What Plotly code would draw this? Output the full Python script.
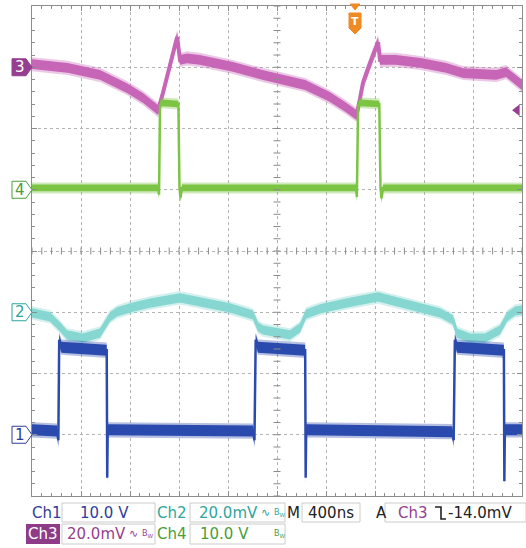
import plotly.graph_objects as go

TIME_PER_DIV_NS = 400
N_XDIV = 10
N_YDIV = 8

# Ch3 (magenta) 20.0 mV/div, reference at +3 div
CH3_SCALE = 20.0
CH3_POS = 3.0
ch3_t = [0, 290, 555, 775, 905, 1030, 1069, 1102, 1143, 1185, 1208, 1265, 1370, 1640, 1880,
         2050, 2230, 2430, 2560, 2650, 2680, 2702, 2760, 2825, 2841, 2970, 3170, 3380, 3520,
         3790, 3870, 4000]
ch3_mv = [1.0, -0.2, -2.5, -6.8, -10.0, -14.0, -8.4, -3.2, 3.3, 9.9, 2.4, 2.9, 2.4, 0.1, -2.5,
          -4.2, -5.8, -9.7, -13.0, -15.6, -9.7, -5.1, 1.4, 8.2, 2.4, 2.4, 1.4, -0.2, -1.9,
          -2.5, -1.6, -5.8]

# Ch4 (green) 10.0 V/div, reference at +1 div
CH4_SCALE = 10.0
CH4_POS = 1.0
ch4_t = [0, 1030, 1037, 1045, 1060, 1195, 1204, 1212, 1225, 2645, 2652, 2662, 2680, 2835,
         2845, 2853, 2866, 4000]
ch4_v = [0.3, 0.3, -0.8, 13.8, 14.2, 14.0, 0.3, -1.3, 0.3, 0.3, -1.2, 13.8, 14.2, 14.0,
         0.3, -1.4, 0.3, 0.3]

# Ch2 (cyan) 20.0 mV/div, reference at -1 div
CH2_SCALE = 20.0
CH2_POS = -1.0
ch2_t = [0, 147, 229, 286, 416, 555, 637, 694, 824, 963, 1208, 1371, 1616, 1804, 1845, 1886,
         2106, 2188, 2237, 2351, 2563, 2824, 3110, 3330, 3437, 3469, 3576, 3698, 3820, 3878,
         3943, 4000]
ch2_mv = [-0.2, -1.5, -4.8, -7.4, -8.4, -6.8, -1.5, 0.1, 1.7, 3.0, 4.7, 3.3, 1.4, -0.9, -4.8,
          -5.8, -7.4, -5.1, -0.6, 1.1, 3.0, 5.0, 2.0, -0.2, -2.5, -6.8, -8.4, -8.4, -5.8, -1.5,
          0.4, 0.7]

# Ch1 (blue) 10.0 V/div, reference at -3 div
CH1_SCALE = 10.0
CH1_POS = -3.0
ch1_t = [0, 205, 215, 222, 240, 610, 614, 618, 626, 1805, 1816, 1826, 1845, 2230, 2234,
         2238, 2246, 3430, 3442, 3452, 3470, 3852, 3856, 3860, 3868, 4000]
ch1_v = [0.8, 0.6, -0.9, 15.5, 14.3, 13.8, -7.0, 0.8, 0.8, 0.6, -0.9, 15.5, 14.3, 13.8, -7.0,
         0.8, 0.8, 0.5, -0.9, 15.5, 14.3, 13.8, -7.6, 0.8, 0.8, 0.8]

# trigger
TRIG_T_NS = 2637
TRIG_LEVEL_MV = -14.0

# readout texts
ch1_label, ch1_scale_txt = "Ch1", "10.0 V"
ch2_label, ch2_scale_txt = "Ch2", "20.0mV"
ch3_label, ch3_scale_txt = "Ch3", "20.0mV"
ch4_label, ch4_scale_txt = "Ch4", "10.0 V"
time_txt = "400ns"
trig_txt = "-14.0mV"

# ---------------- styling ----------------
C1 = "#2b4aae"
C2 = "#86d7d1"
C3 = "#c766b7"
C4 = "#7cc443"
T1 = "#2f3d9c"
T2 = "#2ea69c"
T3 = "#963e8f"
T4 = "#4b9d38"

W, H = 526, 548
L, R, TOP, B = 32, 4, 6, 52
PW, PH = W - L - R, H - TOP - B


def px(x):
    return (x - L) / PW


def py(y):
    return (H - B - y) / PH


def to_div(vals, scale, pos):
    return [v / scale + pos for v in vals]


fig = go.Figure()


def add_channel(t, y, h, color, lw):
    xs = list(t) + list(t)[::-1]
    for hh, op in ((h + 0.035, 0.35), (h, 1.0)):
        ys = [v + hh for v in y] + [v - hh for v in y][::-1]
        fig.add_trace(go.Scatter(x=xs, y=ys, fill="toself", fillcolor=color, opacity=op,
                                 line=dict(width=0), mode="lines", hoverinfo="skip",
                                 showlegend=False))
    fig.add_trace(go.Scatter(x=t, y=y, mode="lines", line=dict(color=color, width=lw),
                             hoverinfo="skip", showlegend=False))


add_channel(ch3_t, to_div(ch3_mv, CH3_SCALE, CH3_POS), 0.08, C3, 4)
add_channel(ch4_t, to_div(ch4_v, CH4_SCALE, CH4_POS), 0.055, C4, 2.5)
add_channel(ch2_t, to_div(ch2_mv, CH2_SCALE, CH2_POS), 0.075, C2, 3)
add_channel(ch1_t, to_div(ch1_v, CH1_SCALE, CH1_POS), 0.09, C1, 2.5)

# centre-cross minor ticks
tmax = TIME_PER_DIV_NS * N_XDIV
minor_t = [i * TIME_PER_DIV_NS / 5 for i in range(N_XDIV * 5 + 1)]
minor_y = [-N_YDIV / 2 + i * 0.2 for i in range(N_YDIV * 5 + 1)]
fig.add_trace(go.Scatter(x=minor_t, y=[0] * len(minor_t), mode="markers",
                         marker=dict(symbol="line-ns", size=5,
                                     line=dict(color="#8a8a8a", width=1)),
                         hoverinfo="skip", showlegend=False))
fig.add_trace(go.Scatter(x=[tmax / 2] * len(minor_y), y=minor_y, mode="markers",
                         marker=dict(symbol="line-ew", size=5,
                                     line=dict(color="#8a8a8a", width=1)),
                         hoverinfo="skip", showlegend=False))

# trigger level arrow (right edge)
fig.add_trace(go.Scatter(x=[tmax * 0.99], y=[TRIG_LEVEL_MV / CH3_SCALE + CH3_POS],
                         mode="markers", cliponaxis=False,
                         marker=dict(symbol="triangle-left", size=10, color=T3),
                         hoverinfo="skip", showlegend=False))

shapes = []
annotations = []

# channel reference markers on the left
for pos, num, col, filled in ((CH3_POS, "3", T3, True), (CH4_POS, "4", T4, False),
                              (CH2_POS, "2", T2, False), (CH1_POS, "1", T1, False)):
    yc = (pos + N_YDIV / 2) / N_YDIV
    hh = 8.5 / PH
    path = (f"M {px(12)},{yc + hh} L {px(26)},{yc + hh} L {px(32)},{yc} "
            f"L {px(26)},{yc - hh} L {px(12)},{yc - hh} Z")
    shapes.append(dict(type="path", xref="paper", yref="paper", path=path,
                       fillcolor=col if filled else "white", line=dict(color=col, width=1)))
    annotations.append(dict(x=px(19.5), y=yc, xref="paper", yref="paper", text=num,
                            showarrow=False, xanchor="center", yanchor="middle",
                            font=dict(family="DejaVu Sans", size=15,
                                      color="white" if filled else col)))

# trigger position marker
tx = TRIG_T_NS
dx = 6 * tmax / PW
path = (f"M {tx - dx},{py(13)} L {tx + dx},{py(13)} L {tx + dx},{py(28)} "
        f"L {tx},{py(34)} L {tx - dx},{py(28)} Z")
shapes.append(dict(type="path", xref="x", yref="paper", path=path,
                   fillcolor="#f08a24", line=dict(color="#f08a24", width=1)))
path2 = f"M {tx - dx * 0.8},{py(4)} L {tx + dx * 0.8},{py(4)} L {tx},{py(10)} Z"
shapes.append(dict(type="path", xref="x", yref="paper", path=path2,
                   fillcolor="#f08a24", line=dict(color="#f08a24", width=1)))
annotations.append(dict(x=tx, y=py(21), xref="x", yref="paper", text="<b>T</b>",
                        showarrow=False, xanchor="center", yanchor="middle",
                        font=dict(family="DejaVu Sans", size=11, color="white")))

# readout boxes
for x0, x1, y0, y1 in ((62, 155, 503, 522), (190, 285, 503, 522), (302, 360, 503, 522),
                       (385, 526, 503, 522), (62, 155, 524, 544), (190, 285, 524, 544)):
    shapes.append(dict(type="rect", xref="paper", yref="paper", x0=px(x0), x1=px(x1),
                       y0=py(y1), y1=py(y0), fillcolor="white",
                       line=dict(color="#cccccc", width=1)))
shapes.append(dict(type="rect", xref="paper", yref="paper", x0=px(26), x1=px(60),
                   y0=py(544), y1=py(524), fillcolor="#8e3b88", line=dict(width=0)))
# falling-edge trigger slope symbol
shapes.append(dict(type="path", xref="paper", yref="paper",
                   path=(f"M {px(435)},{py(507)} L {px(441)},{py(507)} "
                         f"L {px(441)},{py(519)} L {px(446)},{py(519)}"),
                   line=dict(color="#222222", width=1.6)))

FONT = "DejaVu Sans"


def txt(x, y, s, col, size=15):
    annotations.append(dict(x=px(x), y=py(y), xref="paper", yref="paper", text=s,
                            showarrow=False, xanchor="left", yanchor="middle",
                            font=dict(family=FONT, size=size, color=col)))


r1, r2 = 513, 534
txt(30, r1, ch1_label, T1)
txt(78, r1, ch1_scale_txt, T1)
txt(155, r1, ch2_label, T2)
txt(197, r1, ch2_scale_txt, T2)
txt(259, r1 - 1, "∿", T2, 11)
txt(272, r1, "B<sub>W</sub>", T2, 8)
txt(285, r1, "M", "#222222")
txt(306, r1, time_txt, "#222222")
txt(374, r1, "A", "#222222")
txt(396, r1, ch3_label, T3)
txt(446, r1, trig_txt, "#222222")
txt(26, r2, ch3_label, "white")
txt(65, r2, ch3_scale_txt, T3)
txt(127, r2 - 1, "∿", T3, 11)
txt(140, r2, "B<sub>W</sub>", T3, 8)
txt(155, r2, ch4_label, T4)
txt(198, r2, ch4_scale_txt, T4)
txt(272, r2, "B<sub>W</sub>", T4, 8)

axis_common = dict(showticklabels=False, showgrid=True, griddash="dot",
                   gridcolor="#b4b4b4", gridwidth=1, zeroline=False, showline=True,
                   linecolor="#8c8c8c", linewidth=1, mirror="allticks", ticks="inside",
                   ticklen=5, tickcolor="#8c8c8c", fixedrange=True, automargin=False)

fig.update_layout(
    width=W, height=H,
    margin=dict(l=L, r=R, t=TOP, b=B, autoexpand=False),
    paper_bgcolor="white", plot_bgcolor="white",
    xaxis=dict(range=[0, tmax], dtick=TIME_PER_DIV_NS, tick0=0,
               minor=dict(dtick=TIME_PER_DIV_NS / 5, ticks="inside", ticklen=3,
                          tickcolor="#8c8c8c", showgrid=False),
               **axis_common),
    yaxis=dict(range=[-N_YDIV / 2, N_YDIV / 2], dtick=1, tick0=0,
               minor=dict(dtick=0.2, ticks="inside", ticklen=3,
                          tickcolor="#8c8c8c", showgrid=False),
               **axis_common),
    shapes=shapes,
    annotations=annotations,
    showlegend=False,
)

fig.write_html("out.html", config={"displayModeBar": False},
               post_script="document.body.style.margin='0';document.body.style.padding='0';")
